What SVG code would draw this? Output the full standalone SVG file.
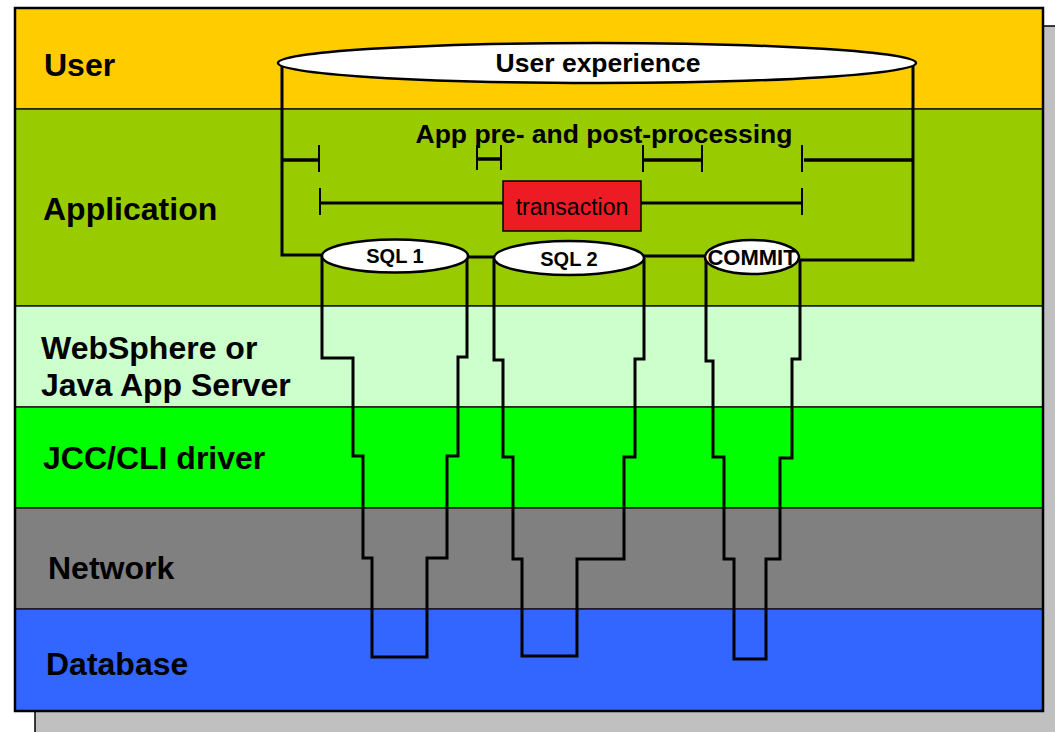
<svg xmlns="http://www.w3.org/2000/svg" width="1055" height="732" viewBox="0 0 1055 732">
  <style>
    .band { stroke: #1a1a1a; stroke-width: 1.5; }
    .lbl { font-family: "Liberation Sans", Arial, sans-serif; font-weight: bold; font-size: 32px; fill: #000; }
    .pipe { fill: none; stroke: #000; stroke-width: 3; stroke-linejoin: miter; }
    .bar { fill: none; stroke: #000; stroke-width: 3.5; }
    .tick { fill: none; stroke: #000; stroke-width: 2; }
    .oval { fill: #fff; stroke: #000; stroke-width: 2.5; }
    .otxt { font-family: "Liberation Sans", Arial, sans-serif; font-weight: bold; fill: #000; text-anchor: middle; }
  </style>

  <rect width="1055" height="732" fill="#fff"/>

  <!-- drop shadow of the layer stack -->
  <rect id="shadow" x="35" y="26" width="1040" height="720" fill="#c0c0c0" stroke="#000" stroke-width="1.5"/>

  <!-- horizontal layers -->
  <g id="layer-user">
    <rect class="band" x="15" y="8" width="1028" height="101" fill="#ffcc00"/>
    <text class="lbl" x="44" y="76">User</text>
  </g>
  <g id="layer-application">
    <rect class="band" x="15" y="109" width="1028" height="197" fill="#99cc00"/>
    <text class="lbl" x="43" y="220">Application</text>
  </g>
  <g id="layer-appserver">
    <rect class="band" x="15" y="306" width="1028" height="101" fill="#ccffcc"/>
    <text class="lbl" x="41" y="359">WebSphere or</text>
    <text class="lbl" x="41" y="396">Java App Server</text>
  </g>
  <g id="layer-driver">
    <rect class="band" x="15" y="407" width="1028" height="101" fill="#00ff00"/>
    <text class="lbl" x="43" y="469">JCC/CLI driver</text>
  </g>
  <g id="layer-network">
    <rect class="band" x="15" y="508" width="1028" height="101" fill="#808080"/>
    <text class="lbl" x="48" y="579">Network</text>
  </g>
  <g id="layer-database">
    <rect class="band" x="15" y="609" width="1028" height="102" fill="#3366ff"/>
    <text class="lbl" x="46" y="675">Database</text>
  </g>
  <rect x="15" y="8" width="1028" height="703" fill="none" stroke="#000" stroke-width="2.5"/>

  <!-- request paths, spans and links -->
  <g id="connectors">
    <path class="pipe" d="M322,255 H282 V63"/>
    <path class="pipe" d="M800,260 H913 V63"/>
    <path class="pipe" d="M467,257 H494"/>
    <path class="pipe" d="M644,256 H706"/>

    <path class="pipe" d="M322,256 V358 H353 V456 H363 V558 H372 V657 H427 V558 H447 V456 H458 V357 H467 V256"/>
    <path class="pipe" d="M494,258 V360 H503 V457 H513 V559 H522 V656 H577 V559 H624 V457 H635 V359 H644 V258"/>
    <path class="pipe" d="M706,257 V361 H713 V457 H724 V559 H734 V659 H766 V559 H780 V458 H792 V359 H800 V260"/>

    <!-- pre/post-processing spans -->
    <path class="bar" d="M283,160 H319"/>
    <path class="tick" d="M319,145 V172"/>
    <path class="bar" d="M477,159 H501"/>
    <path class="tick" d="M477,145 V170 M501,145 V170"/>
    <path class="bar" d="M643,160 H702"/>
    <path class="tick" d="M643,145 V172 M702,145 V172"/>
    <path class="tick" d="M802,145 V172"/>
    <path class="bar" d="M804,160 H913"/>

    <!-- transaction span -->
    <path class="tick" d="M320,188 V215 M802,188 V215"/>
    <path class="pipe" d="M320,203 H503 M641,203 H802"/>
  </g>

  <g id="user-experience">
    <ellipse class="oval" cx="597" cy="63" rx="319" ry="20"/>
    <text class="otxt" x="598" y="72" font-size="26.5">User experience</text>
  </g>

  <g id="app-processing">
    <text class="otxt" x="604" y="143" font-size="26.5">App pre- and post-processing</text>
  </g>

  <g id="transaction">
    <rect x="503" y="181" width="138" height="50" fill="#ed1c24" stroke="#000" stroke-width="1.5"/>
    <text x="572" y="215" font-family="Liberation Sans, Arial, sans-serif" font-size="23" text-anchor="middle" fill="#000">transaction</text>
  </g>

  <g id="sql1">
    <ellipse class="oval" cx="395" cy="256" rx="73" ry="16.5"/>
    <text class="otxt" x="395" y="263" font-size="20">SQL 1</text>
  </g>
  <g id="sql2">
    <ellipse class="oval" cx="569" cy="258" rx="75" ry="17"/>
    <text class="otxt" x="569" y="266" font-size="20">SQL 2</text>
  </g>
  <g id="commit">
    <ellipse class="oval" cx="752" cy="257" rx="47" ry="17"/>
    <text class="otxt" x="752" y="265" font-size="22">COMMIT</text>
  </g>
</svg>
